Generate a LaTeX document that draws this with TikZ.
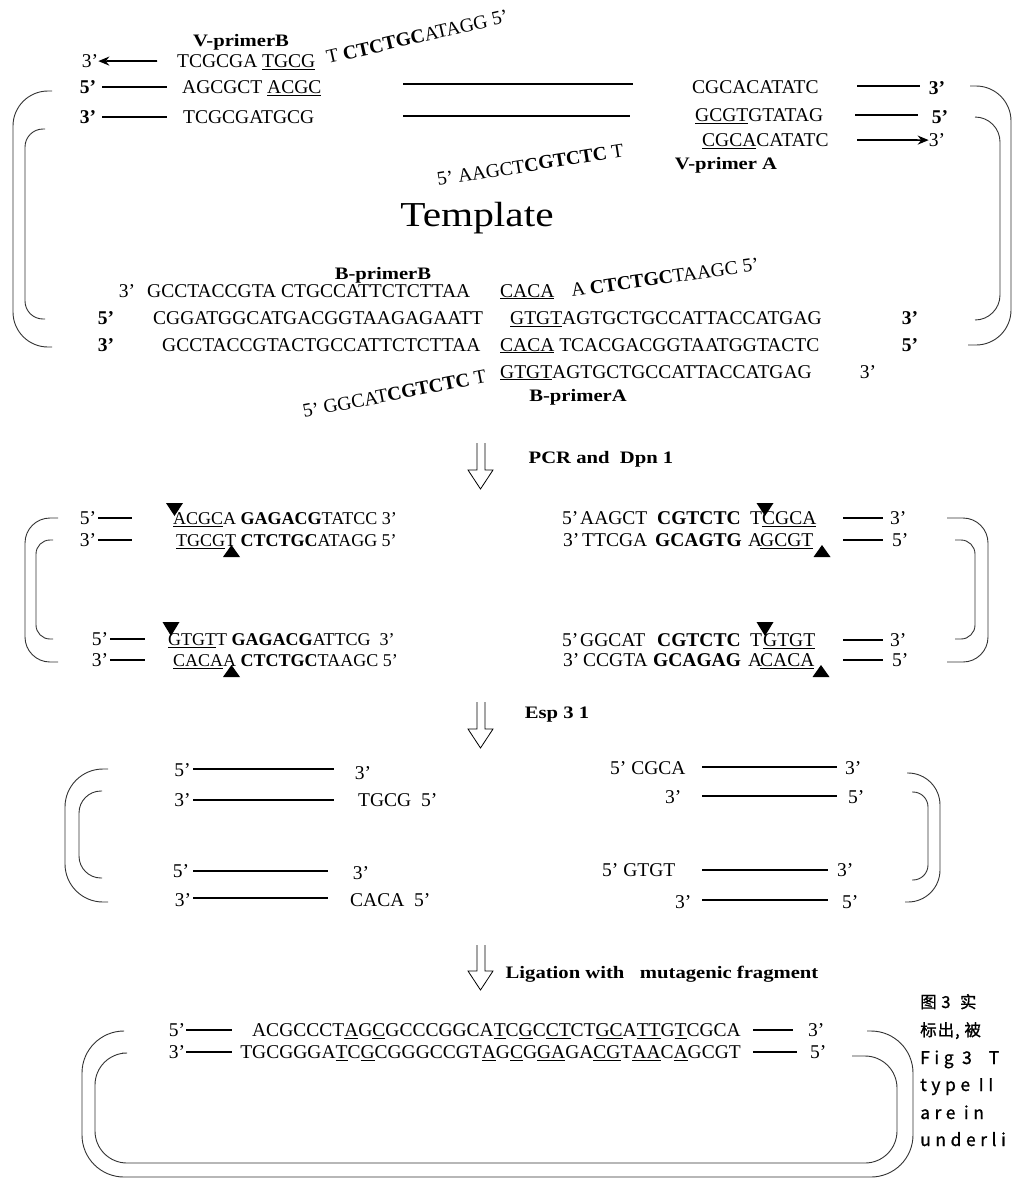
\documentclass[tikz,border=0pt]{standalone}
\usepackage{fontspec}
\setmainfont[Ligatures=ResetAll]{Liberation Serif}
\newfontfamily\labf[FakeStretch=1.18,Ligatures=ResetAll]{Liberation Serif}
\newfontfamily\capf[LetterSpace=6,FakeBold=1]{Noto Sans CJK SC}
\newfontfamily\caplf[LetterSpace=26,FakeBold=1]{Noto Sans CJK SC}
\usetikzlibrary{arrows.meta}
\begin{document}
\begin{tikzpicture}[x=1pt,y=-1pt,
 sq/.style={inner sep=0pt, anchor=base west, font=\fontsize{19.5}{20}\selectfont},
 sqc/.style={inner sep=0pt, anchor=base, font=\fontsize{19.5}{20}\selectfont},
 sqs/.style={inner sep=0pt, anchor=base west, font=\fontsize{18}{19}\selectfont},
 lb/.style={inner sep=0pt, anchor=base, font=\labf\bfseries\fontsize{17.5}{18}\selectfont},
 captxt/.style={inner sep=0pt, anchor=base west, font=\capf\fontsize{16.5}{17}\selectfont},
 caplat/.style={inner sep=0pt, anchor=base west, font=\caplf\fontsize{17.5}{18}\selectfont},
 strand/.style={line width=1.7pt},
 brk/.style={line width=0.9pt, black!80},
 hollow/.style={line width=0.8pt},
 arrtip/.style={-{Stealth[length=11pt,width=9pt]}}]
\fill[white] (0,0) rectangle (1013,1179);
\useasboundingbox (0,0) rectangle (1013,1179);

% ================= TEMPLATE (top) =================
\node[lb] (vpb) at (241,46) {V-primerB};
\node[sqc] (t3a) at (90,67.5) {3'};
\coordinate (a1s) at (157,61);
\draw[strand,arrtip] (a1s) -- (t3a.east);
\node[sq] (s1) at (177,67.5) {TCGCGA \underline{TGCG}};
\node[sq,rotate=13] (r1) at (328,64) {T \textbf{CTCTGC}ATAGG 5'};

\node[sqc] (t5a) at (88,93.5) {\textbf{5'}};
\draw[strand] (102,87) -- (167,87);
\node[sq] (s2) at (182,93.5) {AGCGCT \underline{ACGC}};
\draw[strand] (403,84) -- (633,84);
\node[sq] (s3) at (692,93.5) {CGCACATATC};
\draw[strand] (857,86) -- (920,86);
\node[sqc] (t3b) at (937,94) {\textbf{3'}};

\node[sqc] (t3c) at (88,123.5) {\textbf{3'}};
\draw[strand] (102,117) -- (167,117);
\node[sq] (s4) at (183,123.5) {TCGCGATGCG};
\draw[strand] (403,116) -- (630,116);
\node[sq] (s5) at (695,121.5) {\underline{GCGT}GTATAG};
\draw[strand] (855,115) -- (918,115);
\node[sqc] (t5b) at (940,123) {\textbf{5'}};

\node[sq] (s6) at (702,146.5) {\underline{CGCA}CATATC};
\coordinate (a2s) at (857,140);
\node[sqc] (t3d) at (937,146.5) {3'};
\draw[strand,arrtip] (a2s) -- (t3d.west);
\node[lb] (vpa) at (726,169) {V-primer A};
\node[sq,rotate=9] (r2) at (438,186) {5' AAGCT\textbf{CGTCTC} T};

\node[inner sep=0pt,anchor=base,font=\labf\fontsize{35}{36}\selectfont] (tmpl) at (477,226) {Template};

\node[lb] (bpb) at (383,279) {B-primerB};
\node[sqc] (b3a) at (127,297.5) {3'};
\node[sq] (b1) at (147,297.5) {GCCTACCGTA CTGCCATTCTCTTAA};
\node[sq] (b1u) at (500,297) {\underline{CACA}};
\node[sq,rotate=8] (r3) at (572,297) {A \textbf{CTCTGC}TAAGC 5'};

\node[sqc] (b5a) at (106,324.5) {\textbf{5'}};
\node[sq] (b2) at (153,324.5) {CGGATGGCATGACGGTAAGAGAATT};
\node[sq] (b2u) at (510,324.5) {\underline{GTGT}AGTGCTGCCATTACCATGAG};
\node[sqc] (b3b) at (910,324.5) {\textbf{3'}};

\node[sqc] (b3c) at (106,351) {\textbf{3'}};
\node[sq] (b3) at (162,351) {GCCTACCGTACTGCCATTCTCTTAA};
\node[sq] (b3u) at (500,351) {\underline{CACA} TCACGACGGTAATGGTACTC};
\node[sqc] (b5b) at (910,351) {\textbf{5'}};

\node[sq,rotate=11] (r4) at (304,418) {5' GGCAT\textbf{CGTCTC} T};
\node[sq] (b4u) at (500,378) {\underline{GTGT}AGTGCTGCCATTACCATGAG};
\node[sqc] (b3e) at (868,378) {3'};
\node[lb] (bpa) at (578,401) {B-primerA};

% brackets (template)
\draw[brk,rounded corners=35] (52,91) -- (13,91) -- (13,347) -- (52,347);
\draw[brk,rounded corners=18] (45,129) -- (25,129) -- (25,319) -- (45,319);
\draw[brk,rounded corners=35] (970,86) -- (1011,86) -- (1011,345) -- (968,345);
\draw[brk,rounded corners=25] (975,117) -- (1000,117) -- (1000,320) -- (975,320);

% ================= PCR arrow =================
\draw[hollow] (477,443) -- (477,470) -- (468,470) -- (480.5,489) -- (493,470) -- (485,470) -- (485,443);
\node[lb] (pcr) at (601,463) {PCR and\ \ Dpn 1};

% ================= Dpn section =================
\node[sqc] (d5a) at (88,524.5) {5'};
\draw[strand] (98,518) -- (132,518);
\fill (166,503) -- (183,503) -- (174.5,516) -- cycle;
\node[sqs] (d1) at (173,524.5) {\underline{ACGC}A \textbf{GAGACG}TATCC 3'};

\node[sqc] (d3a) at (88,546.5) {3'};
\draw[strand] (98,540) -- (132,540);
\node[sqs] (d2) at (176,546.5) {\underline{TGCG}T \textbf{CTCTGC}ATAGG 5'};
\fill (223,557) -- (240,557) -- (231.5,545) -- cycle;

\node[sqc] (d5b) at (100,645.5) {5'};
\draw[strand] (110,639) -- (145,639);
\fill (162.5,622) -- (179.5,622) -- (171,636) -- cycle;
\node[sqs] (d3) at (168,645.5) {\underline{GTGT}T \textbf{GAGACG}ATTCG\ \ 3'};

\node[sqc] (d3b) at (100,666.5) {3'};
\draw[strand] (110,660) -- (145,660);
\node[sqs] (d4) at (173,666.5) {\underline{CACA}A \textbf{CTCTGC}TAAGC 5'};
\fill (223,677) -- (240,677) -- (231.5,665) -- cycle;

% right group
\node[sq] (e1a) at (562,524.5) {5'};
\node[sq] (e1b) at (580,524.5) {AAGCT};
\node[sq] (e1c) at (657,524.5) {\textbf{CGTCTC}};
\node[sq] (e1d) at (750,524.5) {T};
\node[sq] (e1e) at (762,524.5) {\underline{CGCA}};
\fill (756.5,503) -- (773.5,503) -- (765,516) -- cycle;
\draw[strand] (843,518) -- (883,518);
\node[sq] (e1f) at (890,524.5) {3'};

\node[sq] (e2a) at (563,546.5) {3'};
\node[sq] (e2b) at (582,546.5) {TTCGA};
\node[sq] (e2c) at (655,546.5) {\textbf{GCAGTG}};
\node[sq] (e2d) at (748,546.5) {A};
\node[sq] (e2e) at (760,546.5) {\underline{GCGT}};
\fill (813.5,557) -- (830.5,557) -- (822,545) -- cycle;
\draw[strand] (843,540) -- (883,540);
\node[sq] (e2f) at (892,546.5) {5'};

\node[sq] (e3a) at (562,646.5) {5'};
\node[sq] (e3b) at (580,646.5) {GGCAT};
\node[sq] (e3c) at (657,646.5) {\textbf{CGTCTC}};
\node[sq] (e3d) at (750,646.5) {T};
\node[sq] (e3e) at (763,646.5) {\underline{GTGT}};
\fill (756.5,622) -- (773.5,622) -- (765,636) -- cycle;
\draw[strand] (843,640) -- (883,640);
\node[sq] (e3f) at (890,646.5) {3'};

\node[sq] (e4a) at (563,666.5) {3'};
\node[sq] (e4b) at (583,666.5) {CCGTA};
\node[sq] (e4c) at (653,666.5) {\textbf{GCAGAG}};
\node[sq] (e4d) at (748,666.5) {A};
\node[sq] (e4e) at (760,666.5) {\underline{CACA}};
\fill (812.5,677) -- (829.5,677) -- (821,665) -- cycle;
\draw[strand] (843,660) -- (883,660);
\node[sq] (e4f) at (892,666.5) {5'};

\draw[brk,rounded corners=25] (58,518) -- (25,518) -- (25,662) -- (58,662);
\draw[brk,rounded corners=14] (53,540) -- (36,540) -- (36,639) -- (53,639);
\draw[brk,rounded corners=25] (947,518) -- (988,518) -- (988,662) -- (947,662);
\draw[brk,rounded corners=14] (955,540) -- (975,540) -- (975,639) -- (955,639);

% ================= Esp arrow =================
\draw[hollow] (477,702) -- (477,729) -- (468,729) -- (480.5,748) -- (493,729) -- (485,729) -- (485,702);
\node[lb] (esp) at (557,718) {Esp 3 1};

% ================= Esp section =================
\node[sqc] (f1a) at (182.5,776.5) {5'};
\draw[strand] (193,769) -- (334,769);
\node[sqc] (f1b) at (363,779.5) {3'};
\node[sqc] (f2a) at (182.5,806.5) {3'};
\draw[strand] (193,800) -- (334,800);
\node[sq] (f2b) at (358,806.5) {TGCG\ \ 5'};
\node[sqc] (f3a) at (181,877.5) {5'};
\draw[strand] (193,871) -- (328,871);
\node[sqc] (f3b) at (361,879.5) {3'};
\node[sqc] (f4a) at (183,906.5) {3'};
\draw[strand] (193,898) -- (328,898);
\node[sq] (f4b) at (350,906.5) {CACA\ \ 5'};
\draw[brk,rounded corners=38] (108,769) -- (65,769) -- (65,902) -- (108,902);
\draw[brk,rounded corners=22] (102,791) -- (79,791) -- (79,878) -- (102,878);

\node[sq] (g1a) at (610,774.5) {5' CGCA};
\draw[strand] (702,767) -- (837,767);
\node[sq] (g1b) at (845,774.5) {3'};
\node[sq] (g2a) at (665,803.5) {3'};
\draw[strand] (702,796) -- (837,796);
\node[sq] (g2b) at (848,803.5) {5'};
\node[sq] (g3a) at (602,876.5) {5' GTGT};
\draw[strand] (702,870) -- (828,870);
\node[sq] (g3b) at (837,876.5) {3'};
\node[sq] (g4a) at (675,908.5) {3'};
\draw[strand] (702,900) -- (828,900);
\node[sq] (g4b) at (842,908.5) {5'};
\draw[brk,rounded corners=32] (907,773) -- (940,773) -- (940,902) -- (905,902);
\draw[brk,rounded corners=15] (912,792) -- (928,792) -- (928,880) -- (912,880);

% ================= Ligation =================
\draw[hollow] (477,945) -- (477,971) -- (468,971) -- (480.5,990) -- (493,971) -- (485,971) -- (485,945);
\node[lb] (lig) at (662,978) {Ligation with\ \ \ mutagenic fragment};

\node[sqc] (h1a) at (177,1036.5) {5'};
\draw[strand] (186,1030) -- (232,1030);
\node[sq,anchor=base east] (h1b) at (741,1036.5) {ACGCCCT\underline{A}G\underline{C}GCCCGGCA\underline{T}C\underline{G}C\underline{CT}CT\underline{GC}A\underline{TT}G\underline{T}CGCA};
\draw[strand] (753,1030) -- (793,1030);
\node[sq] (h1c) at (808,1036.5) {3'};

\node[sqc] (h2a) at (177,1058.5) {3'};
\draw[strand] (186,1052) -- (232,1052);
\node[sq,anchor=base east] (h2b) at (741,1058.5) {TGCGGGA\underline{T}C\underline{G}CGGGCCGT\underline{A}G\underline{C}G\underline{GA}GA\underline{CG}T\underline{AA}C\underline{A}GCGT};
\draw[strand] (753,1052) -- (797,1052);
\node[sq] (h2c) at (810,1058.5) {5'};

\draw[brk,rounded corners=42] (120,1031) -- (82,1031) -- (82,1177) -- (913,1177) -- (913,1031) -- (867,1031);
\draw[brk,rounded corners=32] (122,1053) -- (95,1053) -- (95,1163) -- (897,1163) -- (897,1056) -- (852,1056);

% ================= caption (cut at the edge) =================
\begin{scope}
\clip (0,0) rectangle (1013,1179);
\node[captxt] (c1) at (920,1008) {图 3\ \ 实};
\node[captxt] (c2) at (920,1036) {标出, 被};
\node[caplat] (c3) at (920,1064) {Fig 3\ \ T};
\node[caplat] (c4) at (920,1091) {type II};
\node[caplat] (c5) at (920,1119) {are in};
\node[caplat] (c6) at (920,1146) {underli};
\end{scope}
\end{tikzpicture}
\end{document}
